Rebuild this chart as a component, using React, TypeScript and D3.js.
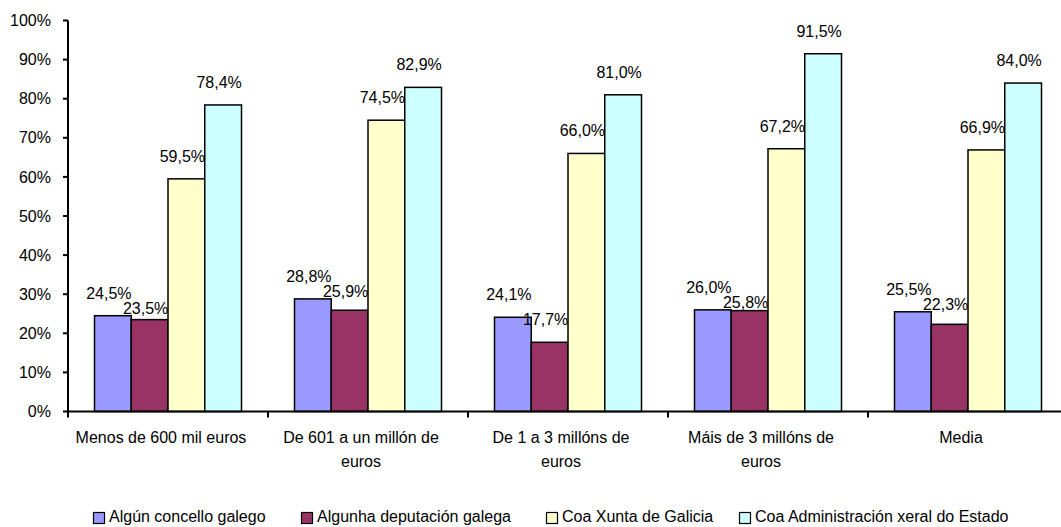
import React from "react";
import * as d3 from "d3";

const categories: string[][] = [
  ["Menos de 600 mil euros"],
  ["De 601 a un millón de", "euros"],
  ["De 1 a 3 millóns de", "euros"],
  ["Máis de 3 millóns de", "euros"],
  ["Media"],
];
const seriesNames = [
  "Algún concello galego",
  "Algunha deputación galega",
  "Coa Xunta de Galicia",
  "Coa Administración xeral do Estado",
];
const seriesColors = ["#9999FF", "#993366", "#FFFFCC", "#CCFFFF"];
const concello = [24.5, 28.8, 24.1, 26.0, 25.5];
const deputacion = [23.5, 25.9, 17.7, 25.8, 22.3];
const xunta = [59.5, 74.5, 66.0, 67.2, 66.9];
const estado = [78.4, 82.9, 81.0, 91.5, 84.0];
const yTicks = [0, 10, 20, 30, 40, 50, 60, 70, 80, 90, 100];

const W = 1061;
const H = 527;
const FONT = "'Liberation Sans', Arial, sans-serif";

export default function App() {
  const series = [concello, deputacion, xunta, estado];
  const catKeys = categories.map((c, i) => String(i));
  const x = d3.scaleBand<string>().domain(catKeys).range([68, 1068]).padding(0);
  const inner = d3
    .scaleBand<string>()
    .domain(seriesNames)
    .range([26.5, x.bandwidth() - 26.5])
    .padding(0);
  const y = d3.scaleLinear().domain([0, 100]).range([411.5, 20.5]);
  const fmt = (v: number) => d3.format(".1f")(v).replace(".", ",") + "%";

  // label placement with simple collision avoidance (like the spreadsheet did)
  const labelPos = catKeys.map((k, ci) => {
    const out: { x: number; y: number }[] = [];
    seriesNames.forEach((s, si) => {
      const v = series[si][ci];
      const cx = (inner(s) as number) + inner.bandwidth() / 2 - 4;
      let by = y(v) - 17;
      if (si > 0) {
        const prev = out[si - 1];
        if (Math.abs(prev.y - by) < 15 && Math.abs(prev.x - cx) < 46) {
          by = prev.y + 15;
        }
      }
      out.push({ x: cx, y: by });
    });
    return out;
  });

  const legendX = [93, 301, 546, 739];

  return (
    <svg
      width={W}
      height={H}
      style={{ position: "absolute", left: 0, top: 0, background: "#fff" }}
      fontFamily={FONT}
      fontSize={16}
    >
      {/* bars */}
      {catKeys.map((k, ci) => (
        <g key={k} transform={`translate(${x(k)},0)`}>
          {seriesNames.map((s, si) => {
            const v = series[si][ci];
            return (
              <rect
                key={s}
                x={inner(s)}
                y={y(v)}
                width={inner.bandwidth()}
                height={y(0) - y(v)}
                fill={seriesColors[si]}
                stroke="#000"
                strokeWidth={1.5}
              />
            );
          })}
          {seriesNames.map((s, si) => {
            const v = series[si][ci];
            const p = labelPos[ci][si];
            return (
              <text key={s + "l"} x={p.x} y={p.y} textAnchor="middle" fill="#000">
                {fmt(v)}
              </text>
            );
          })}
        </g>
      ))}
      {/* y axis */}
      <line x1={68} x2={68} y1={y(100)} y2={y(0)} stroke="#000" strokeWidth={2} />
      {yTicks.map((t) => (
        <g key={t}>
          <line x1={63} x2={68} y1={y(t)} y2={y(t)} stroke="#000" strokeWidth={2} />
          <text x={51} y={y(t)} dy="0.35em" textAnchor="end" fill="#000">
            {t}%
          </text>
        </g>
      ))}
      {/* x axis */}
      <line x1={67} x2={1068} y1={y(0)} y2={y(0)} stroke="#000" strokeWidth={2} />
      {catKeys.map((k) => (
        <line
          key={k}
          x1={x(k)}
          x2={x(k)}
          y1={y(0)}
          y2={y(0) + 6}
          stroke="#000"
          strokeWidth={2}
        />
      ))}
      {categories.map((lines, ci) => (
        <text
          key={ci}
          x={(x(String(ci)) as number) + x.bandwidth() / 2 - 7}
          textAnchor="middle"
          fill="#000"
        >
          {lines.map((ln, li) => (
            <tspan key={li} x={(x(String(ci)) as number) + x.bandwidth() / 2 - 7} y={443 + li * 24}>
              {ln}
            </tspan>
          ))}
        </text>
      ))}
      {/* legend */}
      {seriesNames.map((s, si) => (
        <g key={s} transform={`translate(${legendX[si]},0)`}>
          <rect x={0.5} y={512.5} width={11} height={11} fill={seriesColors[si]} stroke="#000" strokeWidth={1.2} />
          <text x={16} y={522} fill="#000">
            {s}
          </text>
        </g>
      ))}
    </svg>
  );
}
